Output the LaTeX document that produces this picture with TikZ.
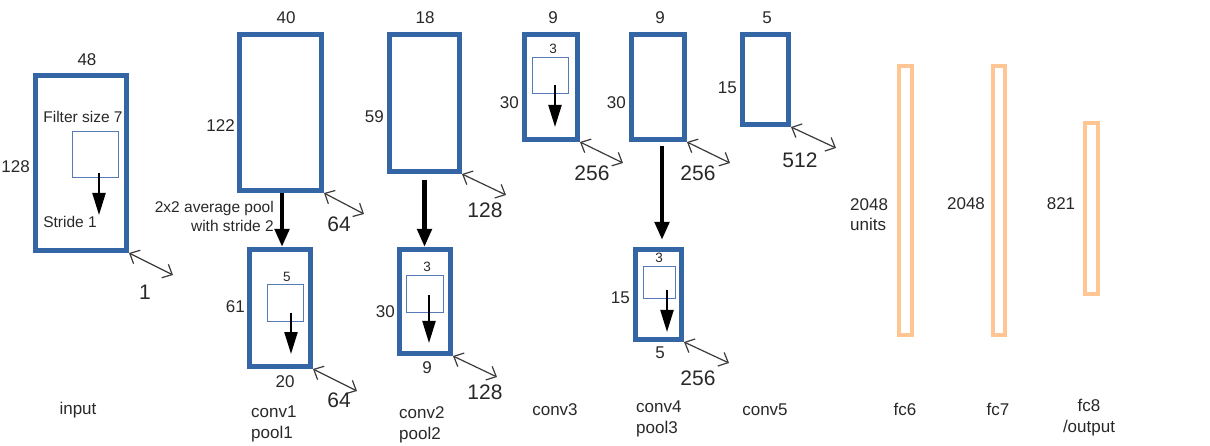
\documentclass[tikz,border=0pt]{standalone}
\usepackage{fontspec}
\setmainfont{Liberation Sans}
\usetikzlibrary{arrows.meta}
\definecolor{boxblue}{HTML}{3465A4}
\definecolor{filtblue}{HTML}{5679B8}
\definecolor{fcorange}{RGB}{255,198,148}
\definecolor{dimgray}{HTML}{3A3A3A}
\definecolor{txt}{HTML}{282828}
\begin{document}
\begin{tikzpicture}[x=1pt,y=-1pt,
  every node/.style={text=txt},
  layer/.style={draw=boxblue, line width=5pt, inner sep=0pt, fill=none},
  fcbox/.style={draw=fcorange, line width=4pt, inner sep=0pt},
  filt/.style={draw=filtblue, line width=1.2pt, inner sep=0pt},
  farrow/.style={draw=black, line width=2.2pt, -{Triangle[length=22pt,width=13pt]}},
  parrow/.style={draw=black, line width=4.5pt, -{Triangle[length=18pt,width=14pt]}},
  dbl/.style={draw=dimgray, line width=1.2pt, {Straight Barb[length=8pt,width=15pt]}-{Straight Barb[length=8pt,width=15pt]}},
  big/.style={font=\fontsize{21}{24}\selectfont, inner sep=0pt},
  lbl/.style={font=\fontsize{17}{20}\selectfont, inner sep=0pt},
  tiny/.style={font=\fontsize{13.5}{16}\selectfont, inner sep=0pt},
  note/.style={font=\fontsize{15.5}{18}\selectfont, inner sep=0pt},
  col/.style={font=\fontsize{17}{21}\selectfont, inner sep=0pt}]
\useasboundingbox (0,0) rectangle (1210,446);

% ---------- input ----------
\node[layer, minimum width=91pt, minimum height=175pt] (in) at (81,163) {};
\node[filt, minimum width=46pt, minimum height=46pt] (inf) at (95.5,154.5) {};
\coordinate (ina) at (99,173); \coordinate (inb) at (99,215);
\draw[farrow] (ina) -- (inb);
\node[note] (tfs) at (83,117) {Filter size 7};
\node[note] (tst) at (70,222) {Stride 1};
\node[lbl] (t48) at (87,60) {48};
\node[lbl, anchor=east] (t128) at (30,167) {128};
\draw[dbl] (in.south east) -- ++(44,22) coordinate (ind);
\node[big] (t1) at (145,292) {1};
\node[col] (tin) at (78,410) {input};

% ---------- conv1 ----------
\node[layer, minimum width=82pt, minimum height=156pt] (c1) at (280.5,112.5) {};
\node[layer, minimum width=61pt, minimum height=117pt] (p1) at (280,308) {};
\draw[parrow] ([xshift=1.5pt]c1.south) -- ([xshift=1.5pt]c1.south |- p1.north);
\node[note, anchor=east] (tpool) at (274,208) {2x2 average pool};
\node[note, anchor=east] (tstr) at (274,226) {with stride 2};
\node[lbl] (t40) at (286,18) {40};
\node[lbl, anchor=east] (t122) at (235,126) {122};
\draw[dbl] (c1.south east) -- ++(40,21) coordinate (c1d);
\node[big] (t64a) at (339,224) {64};
\node[filt, minimum width=36pt, minimum height=37pt] (p1f) at (285.5,303) {};
\node[tiny] (t5a) at (287,277) {5};
\coordinate (p1a) at (291,313); \coordinate (p1b) at (291,354);
\draw[farrow] (p1a) -- (p1b);
\node[lbl, anchor=east] (t61) at (245,307) {61};
\node[lbl] (t20) at (285,382) {20};
\draw[dbl] (p1.south east) -- ++(44,22) coordinate (p1d);
\node[big] (t64b) at (339,400) {64};
\node[col, align=left, anchor=north west] (tc1) at (251,406) {conv1\\pool1};

% ---------- conv2 ----------
\node[layer, minimum width=70pt, minimum height=137pt] (c2) at (424.5,103) {};
\node[layer, minimum width=51pt, minimum height=104pt] (p2) at (425,301.5) {};
\draw[parrow, shorten <=6pt] (c2.south) -- (c2.south |- p2.north);
\node[lbl] (t18) at (425,18) {18};
\node[lbl, anchor=east] (t59) at (384,117) {59};
\draw[dbl] (c2.south east) -- ++(44,21) coordinate (c2d);
\node[big] (t128a) at (485,210) {128};
\node[filt, minimum width=37pt, minimum height=37pt] (p2f) at (425,294) {};
\node[tiny] (t3a) at (427,267) {3};
\coordinate (p2a) at (429,295); \coordinate (p2b) at (429,343);
\draw[farrow] (p2a) -- (p2b);
\node[lbl, anchor=east] (t30a) at (395,312) {30};
\node[lbl] (t9a) at (427,368) {9};
\draw[dbl] (p2.south east) -- ++(44,21) coordinate (p2d);
\node[big] (t128b) at (485,392) {128};
\node[col, align=left, anchor=north west] (tc2) at (399,406) {conv2\\pool2};

% ---------- conv3 ----------
\node[layer, minimum width=53pt, minimum height=105pt] (c3) at (551,87) {};
\node[filt, minimum width=36pt, minimum height=36pt] (c3f) at (550.5,75.5) {};
\node[tiny] (t3b) at (553,49) {3};
\coordinate (c3a) at (555,85); \coordinate (c3b) at (555,127);
\draw[farrow] (c3a) -- (c3b);
\node[lbl] (t9b) at (553,18) {9};
\node[lbl, anchor=east] (t30b) at (519,103) {30};
\draw[dbl] (c3.south east) -- ++(43,21) coordinate (c3d);
\node[big] (t256a) at (592,173) {256};
\node[col] (tc3) at (555,410) {conv3};

% ---------- conv4 ----------
\node[layer, minimum width=53pt, minimum height=105pt] (c4) at (658,87) {};
\node[layer, minimum width=46pt, minimum height=90pt] (p4) at (658.5,294.5) {};
\draw[parrow, shorten <=4pt, shorten >=7pt] ([xshift=4pt]c4.south) -- ([xshift=4pt]c4.south |- p4.north);
\node[lbl] (t9c) at (660,18) {9};
\node[lbl, anchor=east] (t30c) at (626,103) {30};
\draw[dbl] (c4.south east) -- ++(43,21) coordinate (c4d);
\node[big] (t256b) at (698,173) {256};
\node[filt, minimum width=32pt, minimum height=32pt] (p4f) at (659.5,282.5) {};
\node[tiny] (t3c) at (659,258) {3};
\coordinate (p4a) at (667,290); \coordinate (p4b) at (667,332);
\draw[farrow] (p4a) -- (p4b);
\node[lbl, anchor=east] (t15a) at (630,298) {15};
\node[lbl] (t5b) at (660,353) {5};
\draw[dbl] (p4.south east) -- ++(45,21) coordinate (p4d);
\node[big] (t256c) at (698,378) {256};
\node[col, align=left, anchor=north west] (tc4) at (636,401) {conv4\\pool3};

% ---------- conv5 ----------
\node[layer, minimum width=46pt, minimum height=90pt] (c5) at (765.5,79.5) {};
\node[lbl] (t5c) at (767,18) {5};
\node[lbl, anchor=east] (t15b) at (737,88) {15};
\draw[dbl] (c5.south east) -- ++(45,21) coordinate (c5d);
\node[big] (t512) at (800,160) {512};
\node[col] (tc5) at (765,410) {conv5};

% ---------- fc ----------
\node[fcbox, minimum width=13pt, minimum height=269pt] (fc6) at (905.5,200.5) {};
\node[fcbox, minimum width=12pt, minimum height=269pt] (fc7) at (999,200.5) {};
\node[fcbox, minimum width=13pt, minimum height=171pt] (fc8) at (1091.5,208.5) {};
\node[lbl, align=left, anchor=west] (tfc6) at (850,215) {2048\\units};
\node[lbl] (tfc7) at (966,204) {2048};
\node[lbl] (tfc8) at (1061,204) {821};
\node[col] (tc6) at (905,409) {fc6};
\node[col] (tc7) at (998,409) {fc7};
\node[col, align=center, anchor=north] (tc8) at (1089,399) {fc8\\/output};
\end{tikzpicture}
\end{document}
